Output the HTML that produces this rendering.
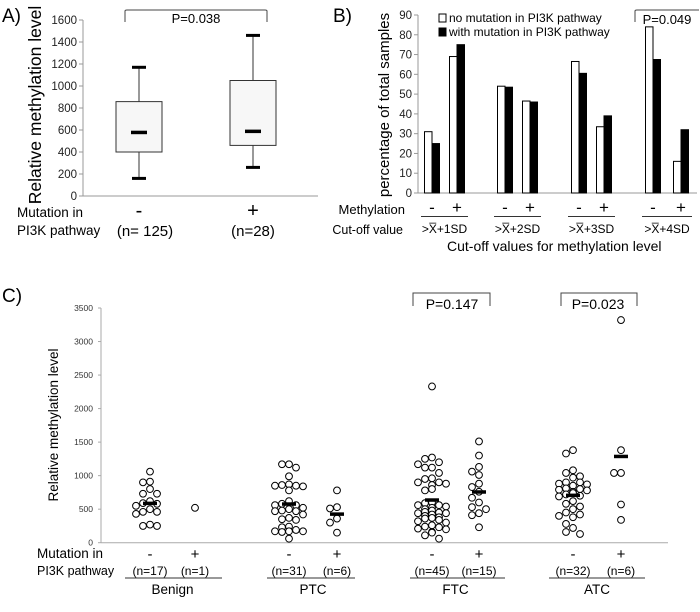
<!DOCTYPE html>
<html><head><meta charset="utf-8">
<style>
html,body{margin:0;padding:0;background:#fff;}
svg{display:block;font-family:"Liberation Sans",sans-serif;}
</style></head>
<body>
<svg id="fig" width="700" height="612" viewBox="0 0 700 612" xmlns="http://www.w3.org/2000/svg">
<g id="pa"></g>
<g id="pb"></g>
<g id="pc"></g>
</svg>
<script>
// ---------- Panel A data ----------
const aGroups = ["-", "+"];
const aCounts = ["(n= 125)", "(n=28)"];
const aMin = [160, 260];
const aQ1 = [400, 460];
const aMedian = [580, 590];
const aQ3 = [858, 1050];
const aMax = [1170, 1460];
const aTicks = [0, 200, 400, 600, 800, 1000, 1200, 1400, 1600];

// ---------- Panel B data ----------
const bCutoffs = [">X\u0305+1SD", ">X\u0305+2SD", ">X\u0305+3SD", ">X\u0305+4SD"];
const bMeth = ["-", "+"];
const bNoMut = [31, 69, 54, 46.5, 66.5, 33.5, 84, 16];
const bWithMut = [25, 75, 53.5, 46, 60.5, 39, 67.5, 32];
const bTicks = [0, 10, 20, 30, 40, 50, 60, 70, 80, 90];

// ---------- Panel C data ----------
const cTypes = ["Benign", "PTC", "FTC", "ATC"];
const cCounts = ["(n=17)", "(n=1)", "(n=31)", "(n=6)", "(n=45)", "(n=15)", "(n=32)", "(n=6)"];
const cBenignNeg = [1060, 910, 900, 800, 730, 730, 620, 590, 550, 580, 500, 460, 460, 430, 270, 250, 250];
const cBenignPos = [520];
const cPtcNeg = [1170, 1170, 1120, 990, 870, 850, 860, 850, 840, 780, 620, 580, 560, 560, 520, 500, 480, 470, 470, 420, 370, 350, 340, 230, 240, 190, 170, 160, 170, 170, 60];
const cPtcPos = [780, 530, 510, 360, 300, 150];
const cFtcNeg = [2330, 1270, 1250, 1200, 1170, 1120, 1120, 1040, 960, 950, 900, 900, 880, 860, 800, 780, 600, 590, 560, 560, 540, 520, 500, 480, 460, 450, 440, 440, 420, 400, 380, 370, 360, 340, 320, 300, 260, 240, 230, 210, 200, 160, 150, 110, 60];
const cFtcPos = [1510, 1300, 1130, 1060, 1010, 880, 830, 760, 670, 600, 530, 500, 440, 410, 230];
const cAtcNeg = [1380, 1330, 1080, 1040, 990, 970, 900, 900, 880, 870, 850, 810, 800, 790, 780, 760, 740, 720, 700, 690, 620, 580, 540, 500, 450, 420, 400, 380, 280, 220, 160, 130];
const cAtcPos = [3320, 1380, 1040, 1040, 570, 340];
const cMedians = [590, null, 580, 430, 640, 760, 710, 1290];
const cTicks = [0, 500, 1000, 1500, 2000, 2500, 3000, 3500];

const NS = "http://www.w3.org/2000/svg";
function mk(parent, tag, attrs, text) {
  const el = document.createElementNS(NS, tag);
  for (const k in attrs) el.setAttribute(k, attrs[k]);
  if (text !== undefined) el.textContent = text;
  parent.appendChild(el);
  return el;
}

// ================= Panel A =================
(function(){
  const g = document.getElementById('pa');
  const x0 = 83, x1 = 318, y0 = 196, yTop = 20;
  const ya = v => y0 - (v / 1600) * (y0 - yTop);
  const xc = [139, 253];
  let t = mk(g, 'text', {x: 2, y: 22, 'font-size': 19}, 'A)');
   
  let ax = mk(g, 'line', {x1: x0, y1: yTop, x2: x0, y2: y0, stroke: '#999'});
   
  ax = mk(g, 'line', {x1: x0, y1: y0, x2: x1, y2: y0, stroke: '#999'});
   
  aTicks.forEach(v => {
    mk(g, 'line', {x1: x0 - 4, y1: ya(v), x2: x0, y2: ya(v), stroke: '#999'});
    const tl = mk(g, 'text', {x: x0 - 6, y: ya(v) + 4, 'font-size': 11.5, 'text-anchor': 'end', fill: '#222'}, v);
     
  });
  const yt = mk(g, 'text', {x: 0, y: 0, 'font-size': 17.5, 'text-anchor': 'middle', transform: 'translate(41,105) rotate(-90)'}, 'Relative methylation level');
   
  aGroups.forEach((lab, i) => {
    const c = xc[i];
    const box = mk(g, 'g', {});
    
    
    mk(box, 'line', {x1: c, y1: ya(aMax[i]), x2: c, y2: ya(aMin[i]), stroke: '#333'});
    mk(box, 'rect', {x: c - 23, y: ya(aQ3[i]), width: 46, height: ya(aQ1[i]) - ya(aQ3[i]), fill: '#f7f7f7', stroke: '#333'});
    mk(box, 'rect', {x: c - 7, y: ya(aMax[i]) - 1.5, width: 14, height: 3, fill: '#000'});
    mk(box, 'rect', {x: c - 7, y: ya(aMin[i]) - 1.5, width: 14, height: 3, fill: '#000'});
    mk(box, 'rect', {x: c - 8, y: ya(aMedian[i]) - 1.5, width: 16, height: 3.5, fill: '#000'});
    const gl = mk(g, 'text', {x: c, y: 217, 'font-size': 20, 'text-anchor': 'middle'}, lab);
     
    const nl = mk(g, 'text', {x: c + (i === 0 ? 6 : 0), y: 236, 'font-size': 15, 'text-anchor': 'middle'}, aCounts[i]);
     
  });
  let l = mk(g, 'text', {x: 17, y: 217, 'font-size': 13.5}, 'Mutation in');
   
  l = mk(g, 'text', {x: 17, y: 235, 'font-size': 13.5}, 'PI3K pathway');
   
  const br = mk(g, 'path', {d: 'M125 22 V11 Q125 10 127 10 H265 Q267 10 267 11 V22', fill: 'none', stroke: '#444'});
   
  const p = mk(g, 'text', {x: 196, y: 23, 'font-size': 13, 'text-anchor': 'middle'}, 'P=0.038');
   
})();

// ================= Panel B =================
(function(){
  const g = document.getElementById('pb');
  const x0 = 418, x1 = 697, y0 = 193, yTop = 15;
  const yb = v => y0 - (v / 90) * (y0 - yTop);
  const pairCenters = [432, 457, 505, 530, 579, 604, 653, 681];
  const bw = 7.5;
  let t = mk(g, 'text', {x: 333, y: 22, 'font-size': 19}, 'B)');
   
  let ax = mk(g, 'line', {x1: x0, y1: yTop, x2: x0, y2: y0, stroke: '#999'});
   
  ax = mk(g, 'line', {x1: x0, y1: y0, x2: x1, y2: y0, stroke: '#999'});
   
  bTicks.forEach(v => {
    mk(g, 'line', {x1: x0 - 4, y1: yb(v), x2: x0, y2: yb(v), stroke: '#999'});
    const tl = mk(g, 'text', {x: x0 - 6, y: yb(v) + 4, 'font-size': 11.5, 'text-anchor': 'end', fill: '#222'}, v);
     
  });
  const yt = mk(g, 'text', {x: 0, y: 0, 'font-size': 15, 'text-anchor': 'middle', transform: 'translate(389,105) rotate(-90)'}, 'percentage of total samples');
   
  bNoMut.forEach((v, i) => {
    const c = pairCenters[i];
    const r1 = mk(g, 'rect', {x: c - bw, y: yb(v), width: bw, height: y0 - yb(v), fill: '#fff', stroke: '#000', 'stroke-width': 1});
     
    const w = bWithMut[i];
    const r2 = mk(g, 'rect', {x: c, y: yb(w), width: bw, height: y0 - yb(w), fill: '#000', stroke: '#000', 'stroke-width': 1});
     
    const s = mk(g, 'text', {x: c, y: 213, 'font-size': 17, 'text-anchor': 'middle'}, bMeth[i % 2]);
     
  });
  bCutoffs.forEach((lab, k) => {
    const a = pairCenters[2 * k], b = pairCenters[2 * k + 1];
    mk(g, 'line', {x1: a - 11, y1: 216.5, x2: b + 11, y2: 216.5, stroke: '#333'});
    const cl = mk(g, 'text', {x: (a + b) / 2, y: 233, 'font-size': 12, 'text-anchor': 'middle'}, lab);
     
  });
  let l = mk(g, 'text', {x: 405, y: 214, 'font-size': 13, 'text-anchor': 'end'}, 'Methylation');
   
  l = mk(g, 'text', {x: 403, y: 234, 'font-size': 12.5, 'text-anchor': 'end'}, 'Cut-off value');
   
  l = mk(g, 'text', {x: 447, y: 251, 'font-size': 14, 'xml:space': 'preserve'}, 'Cut-off values for methylation    level');
   
  const lg = mk(g, 'g', {});
   
  mk(lg, 'rect', {x: 439, y: 14, width: 7, height: 8, fill: '#fff', stroke: '#000'});
  mk(lg, 'text', {x: 449, y: 22, 'font-size': 12}, 'no mutation in PI3K pathway');
  mk(lg, 'rect', {x: 439, y: 28, width: 7, height: 8, fill: '#000', stroke: '#000'});
  mk(lg, 'text', {x: 449, y: 36, 'font-size': 12}, 'with mutation in PI3K pathway');
  const br = mk(g, 'path', {d: 'M635 22 V11 Q635 10 637 10 H699', fill: 'none', stroke: '#444'});
   
  const p = mk(g, 'text', {x: 667, y: 24, 'font-size': 13, 'text-anchor': 'middle'}, 'P=0.049');
   
})();

// ================= Panel C =================
(function(){
  const g = document.getElementById('pc');
  const x0 = 101, x1 = 668, y0 = 542.7, yTop = 308;
  const yc = v => y0 - (v / 3500) * (y0 - yTop);
  const groupX = [150, 195, 289, 337, 432, 479, 573, 621];
  const series = [cBenignNeg, cBenignPos, cPtcNeg, cPtcPos, cFtcNeg, cFtcPos, cAtcNeg, cAtcPos];
  const jit = [0, -7, 7, -14, 14];
  let t = mk(g, 'text', {x: 2, y: 302, 'font-size': 19}, 'C)');
   
  let ax = mk(g, 'line', {x1: x0, y1: yTop, x2: x0, y2: y0, stroke: '#aaa'});
   
  ax = mk(g, 'line', {x1: x0, y1: y0, x2: x1, y2: y0, stroke: '#aaa'});
   
  cTicks.forEach(v => {
    mk(g, 'line', {x1: x0 - 3, y1: yc(v), x2: x0, y2: yc(v), stroke: '#aaa'});
    const tl = mk(g, 'text', {x: x0 - 8, y: yc(v) + 3, 'font-size': 8.5, 'text-anchor': 'end', fill: '#333'}, v);
     
  });
  const yt = mk(g, 'text', {x: 0, y: 0, 'font-size': 13.5, 'text-anchor': 'middle', transform: 'translate(58,425) rotate(-90)'}, 'Relative methylation level');
   
  series.forEach((vals, gi) => {
    const cx = groupX[gi];
    const sorted = vals.slice().sort((a, b) => b - a);
    let prev = null, k = 0;
    sorted.forEach(v => {
      if (prev !== null && Math.abs(yc(prev) - yc(v)) < 7) k++; else k = 0;
      if (k === 0) prev = v;
      const dx = jit[k % jit.length];
      const pt = mk(g, 'circle', {cx: cx + dx, cy: yc(v), r: 3.4, fill: '#fff', stroke: '#000', 'stroke-width': 1});
       
    });
    if (cMedians[gi] !== null) {
      const m = mk(g, 'rect', {x: cx - 7, y: yc(cMedians[gi]) - 1.5, width: 14, height: 3.5, fill: '#000'});
       
    }
    const s = mk(g, 'text', {x: cx, y: 559, 'font-size': 15, 'text-anchor': 'middle'}, gi % 2 === 0 ? '-' : '+');
     
    const n = mk(g, 'text', {x: cx, y: 575, 'font-size': 12, 'text-anchor': 'middle'}, cCounts[gi]);
     
  });
  const underl = [[125, 222], [267, 355], [410, 505], [549, 645]];
  cTypes.forEach((name, k) => {
    mk(g, 'line', {x1: underl[k][0], y1: 578, x2: underl[k][1], y2: 578, stroke: '#333'});
    const tl = mk(g, 'text', {x: (groupX[2 * k] + groupX[2 * k + 1]) / 2, y: 594, 'font-size': 13.5, 'text-anchor': 'middle'}, name);
     
  });
  let l = mk(g, 'text', {x: 37, y: 558, 'font-size': 13.5}, 'Mutation in');
   
  l = mk(g, 'text', {x: 37, y: 575, 'font-size': 12.5}, 'PI3K pathway');
   
  let br = mk(g, 'path', {d: 'M413 306 V293 H490 V306', fill: 'none', stroke: '#444'});
   
  let p = mk(g, 'text', {x: 452, y: 309, 'font-size': 14, 'text-anchor': 'middle'}, 'P=0.147');
   
  br = mk(g, 'path', {d: 'M561 306 V293 H637 V306', fill: 'none', stroke: '#444'});
   
  p = mk(g, 'text', {x: 598, y: 309, 'font-size': 14, 'text-anchor': 'middle'}, 'P=0.023');
   
})();
</script>
</body></html>
